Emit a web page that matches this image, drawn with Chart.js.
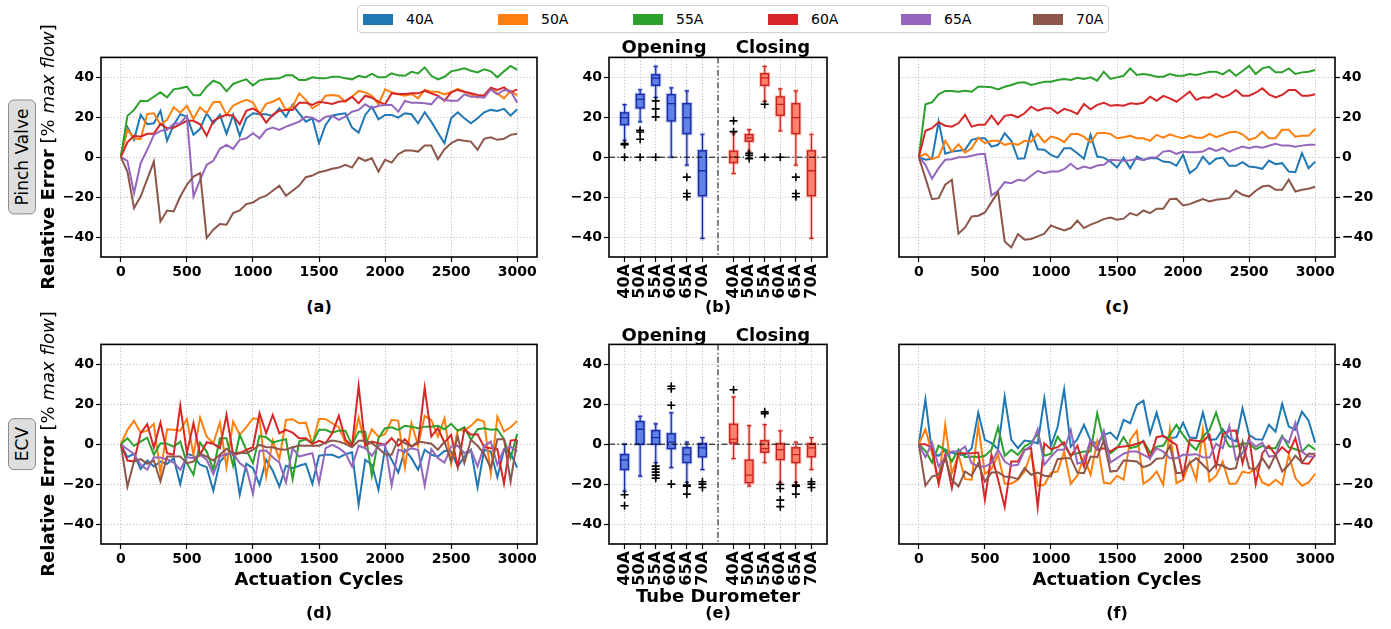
<!DOCTYPE html>
<html>
<head>
<meta charset="utf-8">
<title>Relative error vs actuation cycles</title>
<script src="https://cdn.jsdelivr.net/npm/chart.js@4.4.1/dist/chart.umd.min.js"></script>
<style>
  html, body { margin: 0; padding: 0; background: #fff; }
  body { width: 1391px; height: 629px; position: relative; overflow: hidden;
         font-family: 'DejaVu Sans', sans-serif; color: #000; }
  canvas { position: absolute; }
  .txt { position: absolute; white-space: nowrap; transform: translate(-50%, -50%); font-weight: bold; }
  .ylab { position: absolute; white-space: nowrap; font-size: 18px;
          transform: translate(-50%, -50%) rotate(-90deg); }
  .tag { position: absolute; white-space: nowrap; font-size: 17px; line-height: 20px;
         transform: translate(-50%, -50%) rotate(-90deg);
         background: #dedede; border: 1px solid #8c8c8c; border-radius: 6px; padding: 3px 8px; }
  #legend { position: absolute; left: 357px; top: 5px; width: 752px; height: 28px;
            border: 1px solid #d0d0d0; border-radius: 4px; box-sizing: border-box; background: #fff; }
  #legend .sw { position: absolute; top: 8px; width: 30px; height: 11px; }
  #legend .lt { position: absolute; top: 5px; font-size: 14px; line-height: 16px; }
</style>
</head>
<body>

<div id="legend"></div>

<canvas id="pvOpen"></canvas>
<canvas id="pvBox"></canvas>
<canvas id="pvClose"></canvas>
<canvas id="ecvOpen"></canvas>
<canvas id="ecvBox"></canvas>
<canvas id="ecvClose"></canvas>

<div class="ylab" style="left:47px; top:157px;"><b>Relative Error</b> [% <i>max flow</i>]</div>
<div class="ylab" style="left:47px; top:444px;"><b>Relative Error</b> [% <i>max flow</i>]</div>
<div class="tag" style="left:22px; top:157px;">Pinch Valve</div>
<div class="tag" style="left:22px; top:444px;">ECV</div>

<div class="txt" style="left:664px; top:46px; font-size:18px;">Opening</div>
<div class="txt" style="left:773px; top:46px; font-size:18px;">Closing</div>
<div class="txt" style="left:664px; top:334px; font-size:18px;">Opening</div>
<div class="txt" style="left:773px; top:334px; font-size:18px;">Closing</div>

<div class="txt" style="left:319px; top:578px; font-size:18px;">Actuation Cycles</div>
<div class="txt" style="left:1117px; top:578px; font-size:18px;">Actuation Cycles</div>
<div class="txt" style="left:718px; top:595px; font-size:18px;">Tube Durometer</div>

<div class="txt" style="left:319px; top:306px; font-size:16px;">(a)</div>
<div class="txt" style="left:718px; top:306px; font-size:16px;">(b)</div>
<div class="txt" style="left:1117px; top:306px; font-size:16px;">(c)</div>
<div class="txt" style="left:319px; top:612px; font-size:16px;">(d)</div>
<div class="txt" style="left:718px; top:612px; font-size:16px;">(e)</div>
<div class="txt" style="left:1117px; top:612px; font-size:16px;">(f)</div>

<script>
// ---- data ----
const durometers = ['40A', '50A', '55A', '60A', '65A', '70A'];
const seriesColors = ['#1f77b4', '#ff7f0e', '#2ca02c', '#d62728', '#9467bd', '#8c564b'];

const cycles = [
  0, 50, 100, 150, 200, 250, 300, 350, 400, 450,
  500, 550, 600, 650, 700, 750, 800, 850, 900, 950,
  1000, 1050, 1100, 1150, 1200, 1250, 1300, 1350, 1400, 1450,
  1500, 1550, 1600, 1650, 1700, 1750, 1800, 1850, 1900, 1950,
  2000, 2050, 2100, 2150, 2200, 2250, 2300, 2350, 2400, 2450,
  2500, 2550, 2600, 2650, 2700, 2750, 2800, 2850, 2900, 2950,
  3000
];
const cycleTicks = [0, 500, 1000, 1500, 2000, 2500, 3000];
const errorTicks = [-40, -20, 0, 20, 40];

// pinch valve, opening (a)
const pvOpen40 = [
  0, 15, 8.7, 21.2, 16.5, 17, 23.2, 8.3, 16.2, 21.5,
  20.3, 11.2, 14.2, 22, 17, 21.2, 11.7, 21.2, 10.7, 19.5,
  22, 21.5, 21.5, 20.7, 24.5, 20.3, 26.2, 22, 17.8, 19.5,
  7, 16.2, 20.8, 21.5, 22, 14.8, 12.3, 21.2, 25.3, 19,
  21.2, 21.2, 19.8, 22, 21.5, 17, 22.5, 17.8, 12.3, 7,
  19.5, 22.5, 19.5, 17, 19.5, 22.5, 23.7, 23.2, 24.2, 20.8,
  24
];
const pvOpen50 = [
  0, 13.7, 9.5, 9, 21.7, 22, 16.2, 18.7, 25, 22.3,
  25.8, 19.2, 25, 22, 27.5, 27.8, 21.2, 25.8, 27.5, 28.7,
  27.5, 21.5, 26.7, 27.8, 29.5, 23.7, 25.3, 32, 28.7, 24.5,
  26.5, 30.8, 31.2, 30.7, 27.8, 30.3, 33.2, 32.5, 30.8, 26.5,
  34, 32.5, 31.5, 30.8, 31.7, 29.5, 33.7, 32.8, 32.8, 31.5,
  32.5, 34.2, 32.8, 31.5, 29.8, 31.2, 34.5, 32, 29.5, 33.2,
  31
];
const pvOpen55 = [
  0, 20.7, 23.7, 28.3, 28, 30.3, 32.5, 30, 34, 34.5,
  35.3, 31, 31, 35.3, 38.3, 37, 33, 36.7, 38, 39,
  36, 38.5, 39, 39.3, 39.5, 41, 41, 38.7, 38.7, 40,
  39.5, 39.5, 40.3, 40.3, 39.5, 39, 40.8, 40, 41.7, 40,
  40, 42, 41, 40.8, 42.8, 42, 45, 40.8, 39, 40.3,
  43, 43.7, 44.5, 43.3, 42.5, 44, 43, 40, 43, 45.7,
  43.7
];
const pvOpen60 = [
  0, 7.5, 10.7, 10.3, 11.7, 11.8, 16.7, 14.5, 14.8, 16.5,
  18.2, 18.2, 16.5, 10.7, 18.2, 20, 21.2, 20.8, 16.5, 23.2,
  24.5, 22.3, 17.3, 21.2, 23.3, 23.7, 23.7, 27.3, 27.3, 26.2,
  27.8, 27.3, 26.7, 27.8, 28.2, 30.3, 27, 30.8, 29.8, 27.8,
  26.5, 32, 31.7, 31.7, 32, 32, 33.3, 32, 30.8, 28.2,
  32.5, 33.7, 32.8, 32, 31.2, 30.8, 34.8, 33.7, 35, 32.5,
  34
];
const pvOpen65 = [
  0, -1.8, -18, -3, 3.7, 11.2, 13.2, 13.7, 16.7, 17,
  20.8, -19.7, -11.3, -3.8, -1.8, 4.2, 6.2, 4.2, 8.7, 9.5,
  12, 9.5, 13.7, 14.8, 13.7, 15.3, 16.5, 17.8, 20.3, 19.8,
  17.8, 20.3, 20.7, 18.7, 20.3, 22.8, 23.7, 26.5, 24.5, 25.8,
  26.2, 26.2, 22.8, 28.2, 27.3, 27.3, 27, 26.5, 30.3, 28.7,
  28.3, 28.3, 31.5, 30.3, 30.3, 29.8, 34, 31.5, 33.7, 33.2,
  27.3
];
const pvOpen70 = [
  0, -7.2, -25.5, -19.7, -11, -2.2, -32.2, -26.7, -27.2, -19.7,
  -13.8, -9.7, -8, -40.5, -36.3, -33.5, -33.8, -28, -26.7, -23.5,
  -22.7, -20.5, -19.3, -16.8, -14.3, -19.3, -16.8, -14.2, -10, -9.2,
  -7.5, -6.8, -5.8, -5.2, -3.8, -5.2, -0.2, -1.8, -0.5, -7.2,
  -1.3, -2.7, 1.5, 3.3, 3.3, 2.8, 5.8, 5.8, -1, 4,
  7, 8.7, 8.2, 7.8, 3.7, 9.2, 10, 8.7, 9.2, 11.2,
  11.8
];

// pinch valve, closing (c)
const pvClose40 = [
  0, -1.3, -0.8, 17.8, 1.7, 2.8, 3.2, 3.7, 8.7, 9.5,
  9.5, 5.3, 6.2, 12, 8.2, -0.8, -0.5, 12.8, 4, 3.7,
  1.2, -0.2, 4.5, 4.5, 2, -0.8, 11.2, 0.3, -0.2, -2.2,
  -5.2, -0.2, -5.5, 0.3, -1.3, -0.5, -0.5, -2.2, -2.5, -4.3,
  1.2, -8, -5.5, 0.3, -3.5, -0.8, -0.2, -4.3, -4.3, -2.5,
  -4.7, -5, -5.8, -1.7, -3.5, -3, -7.2, -7.5, 2, -5.5,
  -2.2
];
const pvClose50 = [
  0, 1.7, -1, 0.3, 8.2, 2.8, 6.5, 2.3, 4.5, 9.8,
  7, 8.2, 8.2, 6.2, 7, 6.2, 8.2, 7.8, 11.7, 7.5,
  10.3, 9.5, 7.5, 11.5, 11.7, 10.3, 7.5, 12, 12.3, 11.7,
  9.5, 10, 10.7, 9.5, 9.5, 8.2, 11.2, 9.8, 11.5, 10.3,
  9.5, 10.8, 9.8, 9.8, 11.7, 10, 11.2, 12.5, 12.8, 11.5,
  8.7, 9.8, 12.8, 9.5, 9.5, 13.7, 13.7, 10.3, 10.7, 10.7,
  14.2
];
const pvClose55 = [
  0, 26.5, 27.5, 31.5, 33.2, 33.2, 32.8, 33.3, 32.8, 35.3,
  35.3, 35, 34, 35.3, 36.2, 37.3, 37.5, 36.2, 37, 37.8,
  37.8, 38.7, 39.2, 38.7, 39.8, 39.2, 40, 38.3, 42.8, 39.2,
  40, 40.8, 44.5, 41.2, 41.7, 41.2, 40.3, 40.3, 41.7, 40.8,
  40.8, 41.7, 41.2, 42, 42.8, 42.8, 41.5, 43.7, 40.8, 43.2,
  45.7, 41.7, 44.5, 45.3, 42.5, 42.5, 44.5, 41.7, 42.5, 42.8,
  43.7
];
const pvClose60 = [
  0, 13.2, 14.5, 17.5, 15.8, 15.3, 17, 21.2, 15.3, 16.2,
  16.2, 20.8, 16.5, 20.7, 21.2, 20, 22, 25.3, 23.3, 24.5,
  24.5, 22, 24.2, 23.2, 21.7, 26.7, 24, 26.2, 27.3, 25.8,
  26.2, 25.8, 27, 26.7, 27.3, 30.3, 28.3, 30.7, 29.5, 27.8,
  30.3, 32.8, 28.7, 30, 29.8, 31.7, 30, 31.2, 33.7, 30.8,
  30.8, 32.3, 34.5, 31.5, 30, 31.2, 33.7, 33.7, 30.8, 30.8,
  31.5
];
const pvClose65 = [
  0, -3.8, -10.8, -5.5, -1.3, -1, 0, 0, 0.7, 1.5,
  1.7, -19.2, -16.8, -12.5, -13, -11.3, -11.8, -9.3, -6.8, -8,
  -7.2, -7.2, -6, -3.3, -6, -4.7, -5.5, -4.2, -3.8, -1.3,
  -1.5, -1.8, -1.5, -0.8, -1.5, -0.2, 0, 2.8, 3.2, 1.7,
  2.8, 2.5, 2.5, 2.8, 4.5, 3.2, 4.5, 2.8, 4.2, 5.3,
  4.5, 5.3, 4.8, 5.7, 6.7, 5.8, 5.8, 5.3, 5.8, 6.2,
  6.2
];
const pvClose70 = [
  0, -10.5, -21, -20.5, -13.8, -11.3, -38.3, -35.2, -29.7, -29.3,
  -27.7, -22.5, -17.5, -42.2, -45.2, -38.5, -41.3, -41, -39.7, -38.3,
  -34.2, -35.5, -36.7, -35.5, -31.7, -35.5, -33.8, -32.5, -31, -30.2,
  -31.3, -30.8, -28, -29.2, -26.7, -28, -25.8, -25.8, -21, -20.8,
  -24.2, -23.5, -22.2, -21, -22.2, -21.3, -21, -20.5, -16.7, -18.8,
  -19.7, -16.8, -14.7, -14.2, -16.3, -16.3, -11.3, -17.2, -16.3, -15.8,
  -14.8
];

// ECV, opening (d)
const ecvOpen40 = [
  0, -6.5, -4.8, -12.5, -8.2, -11.2, -8.7, -9.8, -7, -20,
  -4.8, -5.8, -10.3, -11.5, -23.3, -8.7, -5.3, -4.2, -25.3, -9.8,
  -12, -20.3, -7.8, -13.3, -21.2, -10.8, -12, -10.8, -9.8, -19.8,
  -5.8, -5.3, -5.3, -6.7, -5, -4, -30.3, -7.8, -10.3, -22.8,
  -2, -7.8, -14.2, -2.8, -7, -12.8, -2.8, -5.3, -6.2, -3.3,
  -3.7, -11.2, -6.2, -2.8, -21.7, -2.8, -3.7, -16.5, -2.8, -4.5,
  -11.7
];
const ecvOpen50 = [
  0, 7.2, 11.7, 5.8, 6.8, 10.2, -14.5, 7.5, 7.2, 6.8,
  12.7, -5.3, 13.3, 3.8, 0.5, 10.8, -11.5, 11.3, 4.7, 8.5,
  13, 12.5, -16.2, 1.8, -7.5, 12.2, 12.5, 10.5, 10.8, 0,
  12.7, 12.5, 10.5, 8.5, 0.8, -0.8, 13.3, -0.8, 7.5, 3.8,
  5, 12.2, 11.7, -11.7, 10.5, -0.8, 14.2, 12.2, 3.8, 13,
  -9.8, 7.2, 6.8, 9.2, 12.5, 11.3, -14.8, 13.8, 6.3, 8.5,
  11.7
];
const ecvOpen55 = [
  0, 3, -0.8, 1.3, 3.3, -5.3, 0.5, 0.2, -1.2, 1.3,
  -9.5, -15.3, 0.8, -3.7, -12.8, 3, 3, -10.8, 4.7, -2.8,
  -9.5, 4.2, 3.5, 0.8, 1.8, 2.5, -17.5, 1.3, 2.5, 0.5,
  7.2, 7.2, 5.8, 6.8, 6.8, -0.3, 6.3, 6.3, -15.8, 3,
  8, 8.5, 7.2, 9.2, 8.8, 8, 8.8, 8.8, 9.2, 7.5,
  10.2, 6.7, 8.5, 2.2, 7.5, 8, 7.2, 7.5, 2.5, -7,
  5.2
];
const ecvOpen60 = [
  0, -8.2, -8.7, 5.5, 10, -1.7, 10.8, -4.5, -5.3, 19.3,
  -4.5, 10.5, -5.3, 1, 0.2, -2, 14.7, -5.3, -4.5, -2.8,
  -1.5, 15.5, 5.5, 14.7, 5.5, 7.2, 5.8, 3, 3, 0.2,
  1.7, 0.5, 5.5, 14.3, 2.2, -0.8, 29.2, -0.8, 1.3, 0.5,
  -0.3, 3, -0.8, 2.5, -1.2, 0.5, 28.3, 3.8, 8, 0.8,
  4.7, -11.5, 7.5, 4.7, 5, -1.5, -2, -2.5, -19.8, 1.8,
  2.2
];
const ecvOpen65 = [
  0, -2.5, -5, -10.3, -12.8, -6.5, -6.7, -7.5, -9.2, -12.8,
  -6.5, -7, -5.3, -7.8, -15, -6.2, -4.8, -4.5, -9.5, -12,
  -24.8, -3.3, -3.2, -6.5, -9.2, -19.2, -2, -6.2, -5.3, -4.5,
  -19.5, -2, -0.3, -2, -4.5, -11.2, -0.8, -2, -5.8, -0.8,
  0.2, -20.7, -2.8, -3.7, -2, -2.8, -20.8, -2.5, -7, -9.2,
  -1.2, -0.8, -4.5, -2.8, -11.2, -0.8, 1.3, -10.3, -2.5, -1.2,
  -3.7
];
const ecvOpen70 = [
  0, -21.2, -8.7, -7.5, -9.8, -8.2, -18.7, -6.2, -6.2, -6.2,
  -9.5, -8.7, -4.8, -6.2, -8.2, -5.3, -2.3, -4.5, -4.2, -4.5,
  -2.8, -0.3, -1.5, -1.5, -2.5, -2.8, -1.5, -0.8, -0.8, -0.8,
  -0.8, 0.8, 1.8, 1.3, 0.2, -1.5, 1.7, 1.8, 0.5, -2,
  -5, -5.3, 2.5, 0.5, -1.2, 1.3, 0.8, 0.2, -2.8, 1.3,
  -8.7, 3.8, -9.5, 2.2, -0.8, -4.8, -12, 2.5, 2.5, -18.7,
  2.2
];

// ECV, closing (f)
const ecvClose40 = [
  0, 22.5, -4.5, -5.8, -2.8, -4.2, -5.3, -5.3, -2, 15.8,
  2.2, 0.5, -2.5, 23.8, 2.2, -2, 1.8, 1.3, 0.5, 23,
  -0.8, 8.5, 27.5, -1.2, 2.5, 9.7, 1.8, 0.2, 4.7, 5.8,
  2.5, 12.2, 10.5, 19.7, 21.8, 5.2, 15.8, 3.8, 3, 3.5,
  10.8, 3.3, 3, 15.8, 2.2, 2.5, 7.5, 3, 1.3, 18,
  4.7, 2.5, 2.2, 9.7, 6.3, 20.2, 8.8, 7.2, 16.3, 11.8,
  0.8
];
const ecvClose50 = [
  0, 7.5, -4.5, -19.5, 9.7, -14.5, -5.3, -17.5, -17.8, 9.2,
  -14.8, -12.5, -5.3, -19.8, -19.8, -17.8, -13.7, -4.5, -20.8, -20.3,
  -14.2, -13.7, -3.7, -19.8, -15.8, -6.2, -15.3, 1.3, -19.2, -19.8,
  -15.8, -17.8, 2.2, 6.8, -19.8, -17.5, -13.7, -20.3, 7.5, -19.5,
  -17.8, -8.7, -17.8, 7.2, -18.7, -15.8, -8.7, -19.8, -19.8, -13.7,
  -14.5, -12, -19.2, -20.7, -17.8, -20.3, -5.3, -17, -20.8, -19.2,
  -14.8
];
const ecvClose55 = [
  0, -3.3, -9.2, -0.8, -2.8, -8.7, -2.5, -6.5, -6.2, -6.5,
  -5.8, -2.8, 8.5, -5.8, -2.8, -5.3, -1.2, 0.8, 5.2, -5.8,
  -4.8, 3.8, -0.8, -5.3, -4.5, -3.7, -3.7, 15.5, 1.3, -4.5,
  -2, 3.5, -2, -1.2, 1.7, -4.2, -1.2, -0.8, 4.7, 9.7,
  4.7, 0.2, -2.8, 3.8, 7.2, 15.8, 5.2, -1.2, -1.2, 0.5,
  0.2, -2.5, -0.8, -2, -2, 4.2, -1.5, -2.5, -3.7, -0.3,
  -2.8
];
const ecvClose60 = [
  0, 0, -2, -19.8, -5.3, -22, -4.5, -4.5, -4.5, -4.2,
  -27.8, -5.3, -17.8, -31.5, -8.7, -8.7, -2.8, -2, -31.5, 0.5,
  -2.5, -1.5, 1, -6.2, -0.8, -11.2, 1.3, -2.8, -2, -3.7,
  -1.5, -1.2, -0.8, 0.2, 1.3, -7, 3.5, 4.2, 1.8, -0.3,
  -16.2, 2.2, 1.7, 1.3, 4.7, -11.2, 5, 6.7, 6.8, -9.5,
  3.5, -20, -4.5, -0.8, -5.3, -1.5, -4.5, 3, -9.5, -9.8,
  -5.3
];
const ecvClose65 = [
  0, -6.5, 0.8, -11.2, -6.5, -3.7, -3.7, -1.2, -9.5, -11.2,
  -11.2, -9.5, -2.8, -8.7, -10.8, -10.3, -3.2, -0.8, 7.5, -10.3,
  -6.2, -2.8, -2.8, 7.2, -9.8, -8.7, 2.2, -2.5, 6.8, -9.2,
  -7, -4.8, -3.7, -3.7, -5.3, -7, -2, -3.7, -7, -7,
  -5.3, -5.3, -5, -6.5, -6.7, 0.2, -2, 9.2, -7.8, -4.5,
  1.8, -1.2, 0.8, -6.2, -5.8, 3.5, 0.8, 10.8, -3.7, -6.2,
  -6.2
];
const ecvClose70 = [
  0, -20.8, -16.2, -15.3, -7, -17.8, -21.2, -13.7, -15.8, -9.5,
  -18.7, -14.2, -14, -16.2, -16.5, -17.5, -12, -15.3, -14.2, -15.8,
  -16.2, -7.5, -7, -7, -14.2, -14.5, -6.2, -6.5, 1.8, -13.7,
  -13.3, -8.2, -8.3, -8.7, -11.5, -10.3, -7.3, -7, -0.8, -14.5,
  -14.2, -9.5, -7, -10.3, -13.7, -10, -10.8, -12.5, -12, 1.3,
  -12, -12.5, -7, -12, -5.3, -13.7, -10.3, -5.8, -9.2, -4.8,
  -4.8
];

// box plot summaries: six opening boxes then six closing boxes
const boxPositions = [1, 2, 3, 4, 5, 6, 8, 9, 10, 11, 12, 13];
const boxLabels = ['40A', '50A', '55A', '60A', '65A', '70A', '40A', '50A', '55A', '60A', '65A', '70A'];

// (b) pinch valve
const pvWhiskLow = [8.5, 17.7, 30, 0, -4, -40.7, -8.2, 2.7, 28, 13.2, -4, -40.7];
const pvQ1       = [16.3, 24.7, 36, 18.2, 11.8, -19.3, -2.7, 8, 36, 21, 11.8, -19.3];
const pvMedian   = [19.8, 29, 39.6, 26.8, 19.8, -6.8, 0, 9.7, 39.7, 26.5, 19.8, -6.8];
const pvQ3       = [22.2, 31.5, 41.3, 31.3, 26.8, 3.2, 3, 11.3, 41.8, 30.2, 26.8, 3.2];
const pvWhiskHigh = [26.3, 33.8, 45.5, 34.7, 33.2, 11.5, 12, 13.8, 45.5, 34.2, 33.2, 11.5];
const pvFliers = [
  [6.8, 6.2, 0], [13.5, 12.6, 9, 0], [28.2, 24.2, 20.2, 0], [], [-10, -18.2, -19.8], [],
  [18.2, 12.8], [2, 1, -0.7], [26.5, 0], [0], [-10, -18.2, -19.8], []
];

// (e) ECV
const ecvWhiskLow = [-23.5, -16, -9.2, -11.7, -19.2, -12.7, -7.2, -21, -9.3, -19.3, -19.2, -12.7];
const ecvQ1       = [-12.7, 0, 0, -2.2, -9.2, -6.3, 0.7, -19.3, -4, -7.7, -9.2, -6.3];
const ecvMedian   = [-8, 7.5, 3.3, 1, -5.2, -1.8, 2.5, -15.5, -2.2, -2.7, -5.2, -1.8];
const ecvQ3       = [-5.2, 11.3, 6.8, 5.2, -1.8, 0.3, 10, -8, 1.7, 0.3, -1.8, 0.3];
const ecvWhiskHigh = [0, 14, 10.2, 15.7, 1, 3.3, 23.7, 9.3, 9.8, 6.7, 1, 3.3];
const ecvFliers = [
  [-25.3, -30.8], [], [-11, -12.5, -14, -15.5, -17], [29, 27.8, 19.5, -20], [-20.5, -21, -25], [-18.8, -20, -21.7],
  [27.3], [], [16.2, 15.3], [-20.2, -22.2, -28, -31.3], [-20.5, -21, -25], [-18.8, -20, -21.7]
];

// ---- drawing ----
Chart.defaults.font.family = "'DejaVu Sans', sans-serif";
const TICK_FONT = { family: "'DejaVu Sans', sans-serif", size: 14, weight: 'bold' };
const BOX_TICK_FONT = { family: "'DejaVu Sans', sans-serif", size: 16, weight: 'bold' };
const minus = v => String(v).replace('-', '\u2212');

// legend strip
const legend = document.getElementById('legend');
const swatchLeft = [5, 140, 275, 410, 543, 675];
durometers.forEach((d, i) => {
  const sw = document.createElement('div');
  sw.className = 'sw';
  sw.style.left = swatchLeft[i] + 'px';
  sw.style.background = seriesColors[i];
  legend.appendChild(sw);
  const lt = document.createElement('div');
  lt.className = 'lt';
  lt.style.left = (swatchLeft[i] + 43) + 'px';
  lt.textContent = d;
  legend.appendChild(lt);
});

// size and place a canvas so that its plot area lands on `area`
function place(id, area, leftW, rightW, bottomH) {
  const pad = 10;
  const c = document.getElementById(id);
  const w = area.r - area.l + leftW + rightW + 2 * pad;
  const h = area.b - area.t + bottomH + 2 * pad;
  c.width = w;
  c.height = h;
  c.style.left = (area.l - leftW - pad) + 'px';
  c.style.top = (area.t - pad) + 'px';
  c.style.width = w + 'px';
  c.style.height = h + 'px';
  return c;
}

const gridOpts = {
  color: '#b0b0b0', lineWidth: 0.8,
  tickColor: '#000', tickLength: 5, tickWidth: 1.2, tickBorderDash: []
};
const borderOpts = { display: false, dash: [1.2, 2] };

function errorAxis(position, width) {
  return {
    type: 'linear', position: position, min: -50, max: 50,
    afterBuildTicks: s => { s.ticks = errorTicks.map(v => ({ value: v })); },
    afterFit: s => { s.width = width; },
    ticks: { font: TICK_FONT, color: '#000', padding: 2, callback: v => minus(v) },
    grid: gridOpts,
    border: borderOpts
  };
}

function cycleAxis(height) {
  return {
    type: 'linear', min: -150, max: 3150,
    afterBuildTicks: s => { s.ticks = cycleTicks.map(v => ({ value: v })); },
    afterFit: s => { s.height = height; },
    ticks: { font: TICK_FONT, color: '#000', padding: 2, maxRotation: 0, autoSkip: false, callback: v => String(v) },
    grid: gridOpts,
    border: borderOpts
  };
}

const framePlugin = {
  id: 'frame',
  afterDraw(chart) {
    const a = chart.chartArea;
    const ctx = chart.ctx;
    ctx.save();
    ctx.strokeStyle = '#000';
    ctx.lineWidth = 1.6;
    ctx.strokeRect(a.left, a.top, a.right - a.left, a.bottom - a.top);
    ctx.restore();
  }
};

function lineChart(id, area, series, axisSide) {
  const leftW = axisSide === 'left' ? 50 : 0;
  const rightW = axisSide === 'right' ? 45 : 0;
  const canvas = place(id, area, leftW, rightW, 24);
  return new Chart(canvas, {
    type: 'line',
    data: {
      datasets: series.map((vals, i) => ({
        label: durometers[i],
        data: cycles.map((c, k) => ({ x: c, y: vals[k] })),
        borderColor: seriesColors[i],
        borderWidth: 2,
        pointRadius: 0,
        tension: 0,
        fill: false,
        order: series.length - 1 - i
      }))
    },
    options: {
      responsive: false, animation: false, events: [],
      layout: { padding: 10 },
      plugins: { legend: { display: false }, tooltip: { enabled: false } },
      scales: { x: cycleAxis(24), y: errorAxis(axisSide, axisSide === 'left' ? leftW : rightW) }
    },
    plugins: [framePlugin]
  });
}

const openingStyle = { fill: 'rgba(65,105,225,0.82)', edge: '#1c2aa6', halo: 'rgba(65,105,225,0.32)' };
const closingStyle = { fill: 'rgba(255,99,71,0.78)', edge: '#c62424', halo: 'rgba(255,99,71,0.32)' };

function boxPlugin(lo, q1, med, q3, hi) {
  return {
    id: 'boxes',
    beforeDatasetsDraw(chart) {
      const { ctx, chartArea: a } = chart;
      const x = chart.scales.x, y = chart.scales.y;
      const seg = (x1, y1, x2, y2) => { ctx.beginPath(); ctx.moveTo(x1, y1); ctx.lineTo(x2, y2); ctx.stroke(); };
      ctx.save();
      ctx.beginPath();
      ctx.rect(a.left, a.top, a.right - a.left, a.bottom - a.top);
      ctx.clip();

      boxPositions.forEach((p, i) => {
        const st = i < 6 ? openingStyle : closingStyle;
        const xc = x.getPixelForValue(p);
        const hw = x.getPixelForValue(p + 0.25) - xc;
        const cw = x.getPixelForValue(p + 0.14) - xc;
        const yLo = y.getPixelForValue(lo[i]), yQ1 = y.getPixelForValue(q1[i]);
        const yMed = y.getPixelForValue(med[i]);
        const yQ3 = y.getPixelForValue(q3[i]), yHi = y.getPixelForValue(hi[i]);

        // soft halo behind whiskers and box outline
        ctx.strokeStyle = st.halo;
        ctx.lineWidth = 3.5;
        seg(xc, yQ1, xc, yLo);
        seg(xc, yQ3, xc, yHi);
        seg(xc - cw, yLo, xc + cw, yLo);
        seg(xc - cw, yHi, xc + cw, yHi);
        ctx.strokeRect(xc - hw, yQ3, 2 * hw, yQ1 - yQ3);

        ctx.strokeStyle = st.edge;
        ctx.lineWidth = 1.2;
        seg(xc, yQ1, xc, yLo);
        seg(xc, yQ3, xc, yHi);
        seg(xc - cw, yLo, xc + cw, yLo);
        seg(xc - cw, yHi, xc + cw, yHi);

        ctx.fillStyle = st.fill;
        ctx.fillRect(xc - hw, yQ3, 2 * hw, yQ1 - yQ3);
        ctx.lineWidth = 1.4;
        ctx.strokeRect(xc - hw, yQ3, 2 * hw, yQ1 - yQ3);
        ctx.lineWidth = 1.3;
        seg(xc - hw, yMed, xc + hw, yMed);
      });

      // dash-dot zero line and opening/closing divider
      ctx.strokeStyle = '#000';
      ctx.lineWidth = 1;
      ctx.setLineDash([6, 2.5, 1.5, 2.5]);
      const y0 = y.getPixelForValue(0);
      seg(a.left, y0, a.right, y0);
      const xd = x.getPixelForValue(7);
      seg(xd, a.top, xd, a.bottom);
      ctx.restore();
    }
  };
}

function boxChart(id, area, lo, q1, med, q3, hi, fliers) {
  const canvas = place(id, area, 50, 0, 46);
  const pts = [];
  boxPositions.forEach((p, i) => fliers[i].forEach(v => pts.push({ x: p, y: v })));
  return new Chart(canvas, {
    type: 'scatter',
    data: {
      datasets: [{
        data: pts,
        pointStyle: 'cross',
        pointRadius: 4,
        borderColor: '#000',
        backgroundColor: '#000',
        borderWidth: 1.6
      }]
    },
    options: {
      responsive: false, animation: false, events: [],
      layout: { padding: 10 },
      plugins: { legend: { display: false }, tooltip: { enabled: false } },
      scales: {
        x: {
          type: 'linear', min: 0, max: 14,
          afterBuildTicks: s => { s.ticks = boxPositions.map(v => ({ value: v })); },
          afterFit: s => { s.height = 46; },
          ticks: {
            font: BOX_TICK_FONT, color: '#000', padding: 2, autoSkip: false,
            minRotation: 90, maxRotation: 90,
            callback: v => { const k = boxPositions.indexOf(v); return k >= 0 ? boxLabels[k] : ''; }
          },
          grid: gridOpts,
          border: borderOpts
        },
        y: errorAxis('left', 50)
      }
    },
    plugins: [boxPlugin(lo, q1, med, q3, hi), framePlugin]
  });
}

const areaA = { l: 101, t: 57, r: 537, b: 257 };
const areaB = { l: 609, t: 57, r: 827, b: 257 };
const areaC = { l: 899, t: 57, r: 1335, b: 257 };
const areaD = { l: 101, t: 344, r: 537, b: 544 };
const areaE = { l: 609, t: 344, r: 827, b: 544 };
const areaF = { l: 899, t: 344, r: 1335, b: 544 };

lineChart('pvOpen', areaA, [pvOpen40, pvOpen50, pvOpen55, pvOpen60, pvOpen65, pvOpen70], 'left');
boxChart('pvBox', areaB, pvWhiskLow, pvQ1, pvMedian, pvQ3, pvWhiskHigh, pvFliers);
lineChart('pvClose', areaC, [pvClose40, pvClose50, pvClose55, pvClose60, pvClose65, pvClose70], 'right');
lineChart('ecvOpen', areaD, [ecvOpen40, ecvOpen50, ecvOpen55, ecvOpen60, ecvOpen65, ecvOpen70], 'left');
boxChart('ecvBox', areaE, ecvWhiskLow, ecvQ1, ecvMedian, ecvQ3, ecvWhiskHigh, ecvFliers);
lineChart('ecvClose', areaF, [ecvClose40, ecvClose50, ecvClose55, ecvClose60, ecvClose65, ecvClose70], 'right');
</script>
</body>
</html>
